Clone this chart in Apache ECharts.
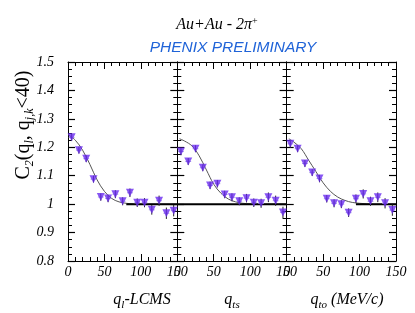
<!DOCTYPE html>
<html><head><meta charset="utf-8">
<script src="https://cdn.jsdelivr.net/npm/echarts@6/dist/echarts.min.js"></script>
<style>html,body{margin:0;padding:0;background:#fff}#c{width:415px;height:313px}</style>
</head><body><div id="c"></div>
<script>
// ---- data ----
const qBins = [5,15,25,35,45,55,65,75,85,95,105,115,125,135,145];
const c2Long = [1.235,1.19,1.16,1.088,1.025,1.02,1.035,1.01,1.04,1.005,1.005,0.98,1.012,0.968,0.977];
const c2Side = [1.185,1.15,1.195,1.128,1.066,1.072,1.034,1.024,1.01,1.021,1.005,1.003,1.024,1.012,0.971];
const c2Out  = [1.212,1.195,1.143,1.111,1.09,1.019,1.003,1.0,0.97,1.019,1.036,1.01,1.024,1.003,0.979];
const errLong = [0.013,0.012,0.012,0.012,0.013,0.013,0.014,0.014,0.015,0.015,0.016,0.017,0.018,0.02,0.02];
const errSide = [0.013,0.012,0.012,0.012,0.013,0.013,0.013,0.014,0.014,0.015,0.015,0.016,0.017,0.018,0.02];
const errOut  = [0.013,0.012,0.012,0.012,0.013,0.013,0.014,0.014,0.015,0.015,0.016,0.016,0.017,0.018,0.02];
const fitLongX = [0,10,20,30,40,50,60,70,80,90,100,120,150];
const fitLongY = [1.245,1.225,1.19,1.14,1.085,1.045,1.02,1.008,1.003,1.001,1.0,1.0,1.0];
const fitSideX = [3,10,20,30,40,50,60,70,80,90,100,120,150];
const fitSideY = [1.23,1.222,1.205,1.17,1.12,1.07,1.038,1.018,1.008,1.003,1.001,1.0,1.0];
const fitOutX  = [3,10,20,30,40,50,60,70,80,90,100,110,120,150];
const fitOutY  = [1.23,1.218,1.195,1.155,1.115,1.075,1.045,1.025,1.013,1.006,1.003,1.001,1.0,1.0];
const unityRanges = [[80,150],[0,150],[95,150]];
const xTicks = [0,50,100,150];
const yTicks = [0.8,0.9,1.0,1.1,1.2,1.3,1.4,1.5];

// ---- chart ----
const chart = echarts.init(document.getElementById('c'), null, {renderer:'canvas'});
const panels = [
  {vals:c2Long, errs:errLong, fx:fitLongX, fy:fitLongY},
  {vals:c2Side, errs:errSide, fx:fitSideX, fy:fitSideY},
  {vals:c2Out,  errs:errOut,  fx:fitOutX,  fy:fitOutY}
];
const lefts = [68, 177.3, 286.7];
const W = 109.3, TOP = 62, H = 199;
const serif = 'Liberation Serif';
const lineStyle = {color:'#000', width:1};
const grids = [], xAxes = [], yAxes = [], series = [];

function errRender(params, api){
  const x = api.value(0), y = api.value(1), e = api.value(2);
  const t = api.coord([x, y+e]), b = api.coord([x, y-e]);
  const l = api.coord([x-4, y]), r = api.coord([x+4, y]);
  return {type:'group', children:[
    {type:'line', shape:{x1:l[0],y1:l[1],x2:r[0],y2:r[1]}, style:{stroke:'#a89be6', lineWidth:1}},
    {type:'line', shape:{x1:t[0],y1:t[1],x2:b[0],y2:b[1]}, style:{stroke:'#222', lineWidth:1}}
  ]};
}

panels.forEach((p, i) => {
  grids.push({left:lefts[i], top:TOP, width:W, height:H, containLabel:false});
  const xBase = {type:'value', min:xTicks[0], max:xTicks[xTicks.length-1], interval:50, gridIndex:i,
    axisLine:{show:true, onZero:false, lineStyle}, splitLine:{show:false},
    axisTick:{show:true, inside:true, length:7, lineStyle},
    minorTick:{show:true, splitNumber:5, length:4, lineStyle:{color:'#000', width:1}}};
  xAxes.push(Object.assign({}, xBase, {position:'bottom',
    axisLabel:{show:true, margin:4, fontFamily:serif, fontStyle:'italic', fontSize:14, color:'#000',
      showMinLabel:true, showMaxLabel:true}}));
  xAxes.push(Object.assign({}, xBase, {position:'top', axisLabel:{show:false}}));
  const yBase = {type:'value', min:yTicks[0], max:yTicks[yTicks.length-1], interval:0.1, gridIndex:i,
    axisLine:{show:true, onZero:false, lineStyle}, splitLine:{show:false},
    axisTick:{show:true, inside:true, length:7, lineStyle:{color:'#000', width:1.2}},
    minorTick:{show:true, splitNumber:4, length:4, lineStyle:{color:'#000', width:1}}};
  yAxes.push(Object.assign({}, yBase, {position:'left',
    axisLabel:{show:i===0, margin:14, fontFamily:serif, fontStyle:'italic', fontSize:14, color:'#000',
      formatter:v => String(Math.round(v*10)/10)}}));
  yAxes.push(Object.assign({}, yBase, {position:'right', axisLabel:{show:false}}));

  const xi = i*2, yi = i*2;
  series.push({type:'line', xAxisIndex:xi, yAxisIndex:yi, data:p.fx.map((x,k)=>[x,p.fy[k]]),
    smooth:0.35, showSymbol:false, lineStyle:{color:'#555', width:1}, silent:true, z:2});
  series.push({type:'line', xAxisIndex:xi, yAxisIndex:yi, data:unityRanges[i].map(x=>[x,1.0]),
    showSymbol:false, lineStyle:{color:'#000', width:2}, silent:true, z:3});
  series.push({type:'custom', xAxisIndex:xi, yAxisIndex:yi, renderItem:errRender,
    encode:{x:0, y:1}, data:qBins.map((q,k)=>[q,p.vals[k],p.errs[k]]), z:4});
  series.push({type:'scatter', xAxisIndex:xi, yAxisIndex:yi, data:qBins.map((q,k)=>[q,p.vals[k]]),
    symbol:'triangle', symbolRotate:180, symbolSize:8, itemStyle:{color:'#6a2cf0'}, z:5});
});

const sub = {fontFamily:serif, fontStyle:'italic', fontSize:11, verticalAlign:'bottom', padding:[10,0,0,0], fill:'#000'};
const subY = {fontFamily:serif, fontStyle:'italic', fontSize:12, verticalAlign:'bottom', padding:[11,0,0,0], fill:'#000'};
const xt = {fontFamily:serif, fontStyle:'italic', fontSize:16, fill:'#000'};

chart.setOption({
  animation:false,
  grid:grids, xAxis:xAxes, yAxis:yAxes, series:series,
  graphic:[
    {type:'text', x:217, y:25, style:{text:'{a|Au+Au - 2π}{s|+}', align:'center', verticalAlign:'middle',
      rich:{a:{fontFamily:serif, fontStyle:'italic', fontSize:16, fill:'#000'},
            s:{fontFamily:serif, fontSize:10, fill:'#000', verticalAlign:'top', padding:[0,0,8,0]}}}},
    {type:'text', x:233, y:48, style:{text:'PHENIX PRELIMINARY', fontFamily:'Liberation Sans', fontStyle:'italic',
      fontSize:15.5, fill:'#1f63d8', align:'center', verticalAlign:'middle'}},
    {type:'text', x:24, y:125, rotation:Math.PI/2, style:{text:'{m|C}{s|2}{m|(q}{s|l}{m|, q}{s|j,k}{m|<40)}',
      align:'center', verticalAlign:'middle', rich:{m:{fontFamily:serif, fontSize:20, fill:'#000'}, s:subY}}},
    {type:'text', x:142, y:300, style:{text:'{m|q}{s|l}{m|-LCMS}', align:'center', verticalAlign:'middle', rich:{m:xt, s:sub}}},
    {type:'text', x:232, y:300, style:{text:'{m|q}{s|ts}', align:'center', verticalAlign:'middle', rich:{m:xt, s:sub}}},
    {type:'text', x:347, y:300, style:{text:'{m|q}{s|to}{m| (MeV/c)}', align:'center', verticalAlign:'middle', rich:{m:xt, s:sub}}}
  ]
});
</script></body></html>
